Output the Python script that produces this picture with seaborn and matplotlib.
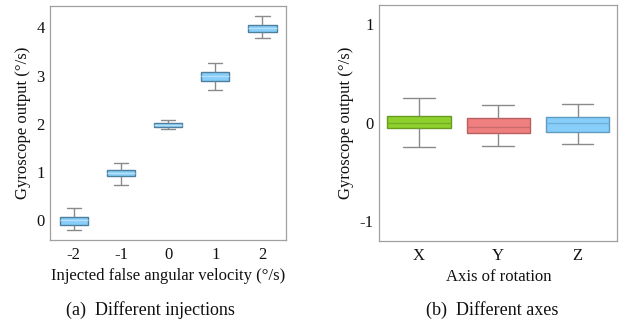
import matplotlib
matplotlib.use("Agg")
import matplotlib.pyplot as plt
import pandas as pd
import seaborn as sns

# injected false angular velocity (deg/s) and the box statistics
injections = ['-2', '-1', '0', '1', '2']
inj_low = [-0.22, 0.73, 1.88, 2.70, 3.79]
inj_q1 = [-0.10, 0.90, 1.93, 2.89, 3.90]
inj_median = [0.00, 0.98, 1.97, 2.99, 3.98]
inj_q3 = [0.06, 1.04, 2.01, 3.07, 4.05]
inj_high = [0.24, 1.18, 2.07, 3.27, 4.24]

# axis of rotation, no injection
axes_names = ['X', 'Y', 'Z']
axis_low = [-0.25, -0.24, -0.22]
axis_q1 = [-0.06, -0.11, -0.10]
axis_median = [0.00, -0.05, 0.00]
axis_q3 = [0.07, 0.05, 0.06]
axis_high = [0.25, 0.18, 0.19]
axis_colors = ['#8fd12c', '#f08080', '#87cefa']


def long_form(cats, lo, q1, med, q3, hi):
    # five samples per category reproduce min / quartiles / median / max
    rows = []
    for i, c in enumerate(cats):
        for v in [lo[i], q1[i], med[i], q3[i], hi[i]]:
            rows.append({'cat': c, 'val': v})
    return pd.DataFrame(rows)


sns.set_style('white')
plt.rcParams['font.family'] = ['Liberation Serif', 'DejaVu Serif']
plt.rcParams['axes.unicode_minus'] = False

fig = plt.figure(figsize=(6.26, 3.26), dpi=100)
ax1 = fig.add_axes([0.080, 0.264, 0.377, 0.718])
ax2 = fig.add_axes([0.606, 0.262, 0.380, 0.724])

gray = '#8a8a8a'
line_kws = dict(whiskerprops={'color': gray}, capprops={'color': gray})

df_inj = long_form(injections, inj_low, inj_q1, inj_median, inj_q3, inj_high)
sns.boxplot(data=df_inj, x='cat', y='val', order=injections, ax=ax1,
            color='#87cefa', linecolor='#4d7f9c', width=0.6, whis=(0, 100),
            saturation=1, linewidth=1, medianprops={'color': '#b5e0f7'},
            **line_kws)

df_axis = long_form(axes_names, axis_low, axis_q1, axis_median, axis_q3, axis_high)
sns.boxplot(data=df_axis, x='cat', y='val', hue='cat', order=axes_names,
            palette=axis_colors, ax=ax2, width=0.8, whis=(0, 100),
            saturation=1, linewidth=1, legend=False, **line_kws)
edge_colors = ['#6a9a22', '#b86060', '#5f9abf']
med_colors = ['#76ab28', '#c86a6a', '#6fb0d8']
for cont, ec, mc in zip(ax2.containers, edge_colors, med_colors):
    for b in cont.boxes:
        b.set_edgecolor(ec)
    for m in cont.medians:
        m.set_color(mc)
    for ln in list(cont.whiskers) + list(cont.caps):
        ln.set_color(gray)

ax1.set_ylim(-0.42, 4.45)
ax1.set_xlim(-0.5, 4.5)
ax1.set_yticks([0, 1, 2, 3, 4])
ax1.set_xlabel('Injected false angular velocity (°/s)', fontsize=12)
ax1.set_ylabel('Gyroscope output (°/s)', fontsize=12, labelpad=4)

ax2.set_ylim(-1.2, 1.2)
ax2.set_xlim(-0.5, 2.5)
ax2.set_yticks([-1, 0, 1])
ax2.set_xlabel('Axis of rotation', fontsize=12)
ax2.set_ylabel('Gyroscope output (°/s)', fontsize=12, labelpad=4)

for ax in (ax1, ax2):
    for s in ax.spines.values():
        s.set_color('#a0a0a0')
        s.set_linewidth(0.9)
    ax.tick_params(direction='in', length=2, width=0.6, color='#a0a0a0',
                   labelsize=12, labelcolor='#111111', pad=5)
    ax.tick_params(axis='y', pad=4)
    ax.xaxis.label.set_color('#111111')
    ax.yaxis.label.set_color('#111111')

fig.text(0.24, 0.049, '(a)  Different injections', ha='center', va='center',
         fontsize=13, color='#111111')
fig.text(0.786, 0.049, '(b)  Different axes', ha='center', va='center',
         fontsize=13, color='#111111')

fig.savefig('out.png', dpi=100)
